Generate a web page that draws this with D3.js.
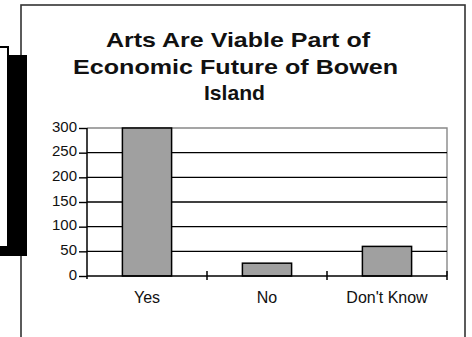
<!DOCTYPE html>
<html><head><meta charset="utf-8">
<script src="https://cdn.jsdelivr.net/npm/d3@7"></script>
<style>html,body{margin:0;padding:0;background:#fff;}svg{display:block;}</style>
</head><body>
<script>
const categories = ["Yes", "No", "Don't Know"];
const values = [300, 26, 60];
const yTicks = [0, 50, 100, 150, 200, 250, 300];
const titleLines = ["Arts Are Viable Part of", "Economic Future of Bowen", "Island"];

const W = 472, H = 337;
const svg = d3.select("body").append("svg").attr("width", W).attr("height", H);
const font = "'Liberation Sans', Arial, sans-serif";

// outer frame
svg.append("rect").attr("x", 21).attr("y", 5).attr("width", 444).attr("height", 345)
  .attr("fill", "none").attr("stroke", "#333").attr("stroke-width", 1.6);

// black decoration on left
svg.append("rect").attr("x", 7).attr("y", 55).attr("width", 20).attr("height", 191).attr("fill", "#000");
svg.append("rect").attr("x", 0).attr("y", 246).attr("width", 27).attr("height", 10).attr("fill", "#000");
svg.append("path").attr("d", "M0,47 H8 V55").attr("fill", "none").attr("stroke", "#000").attr("stroke-width", 2);

// title
const titleX = [106, 73, 204], titleW = [264, 325, 61], titleY = [47, 73.5, 99.5];
svg.selectAll("text.title").data(titleLines).join("text").attr("class", "title")
  .attr("x", (d, i) => titleX[i]).attr("y", (d, i) => titleY[i])
  .attr("textLength", (d, i) => titleW[i]).attr("lengthAdjust", "spacingAndGlyphs")
  .attr("font-family", font).attr("font-weight", "bold").attr("font-size", 21)
  .attr("fill", "#111").text(d => d);

// scales
const x = d3.scaleBand().domain(categories).range([87, 447]).padding(0);
const y = d3.scaleLinear().domain([0, 300]).range([276, 128]);

// plot border (top + right gray)
svg.append("path").attr("d", `M87,${y(300)} H447 V276`).attr("fill", "none")
  .attr("stroke", "#888").attr("stroke-width", 1.4);

// gridlines
svg.selectAll("line.grid").data(yTicks.filter(t => t > 0 && t < 300)).join("line")
  .attr("x1", 87).attr("x2", 447).attr("y1", d => y(d)).attr("y2", d => y(d))
  .attr("stroke", "#000").attr("stroke-width", 1.4);

// bars
const bw = x.bandwidth() * 0.41;
svg.selectAll("rect.bar").data(values).join("rect").attr("class", "bar")
  .attr("x", (d, i) => x(categories[i]) + x.bandwidth() / 2 - bw / 2)
  .attr("y", d => y(d)).attr("width", bw).attr("height", d => y(0) - y(d))
  .attr("fill", "#a0a0a0").attr("stroke", "#000").attr("stroke-width", 1.5);

// y axis
const yAxis = d3.axisLeft(y).tickValues(yTicks).tickSize(8).tickPadding(3).tickSizeOuter(0);
const gy = svg.append("g").attr("transform", "translate(87,0)").call(yAxis);
gy.select(".domain").attr("stroke", "#000").attr("stroke-width", 1.5).attr("d", `M0,${y(300)}V279`);
gy.selectAll(".tick line").attr("stroke", "#000").attr("stroke-width", 1.4);
gy.selectAll(".tick text").attr("font-family", font).attr("font-size", 15).attr("fill", "#111")
  .attr("dy", "0.2em").attr("x", -10);

// x axis
svg.append("line").attr("x1", 87).attr("x2", 447).attr("y1", y(0)).attr("y2", y(0))
  .attr("stroke", "#000").attr("stroke-width", 1.5);
svg.selectAll("line.xtick").data(categories).join("line")
  .attr("x1", d => x(d) + x.bandwidth()).attr("x2", d => x(d) + x.bandwidth())
  .attr("y1", y(0) - 5).attr("y2", y(0) + 4).attr("stroke", "#000").attr("stroke-width", 1.5);
svg.selectAll("text.xlab").data(categories).join("text").attr("class", "xlab")
  .attr("x", d => x(d) + x.bandwidth() / 2).attr("y", 302.5).attr("text-anchor", "middle")
  .attr("font-family", font).attr("font-size", 16).attr("fill", "#111").text(d => d);
</script>
</body></html>
